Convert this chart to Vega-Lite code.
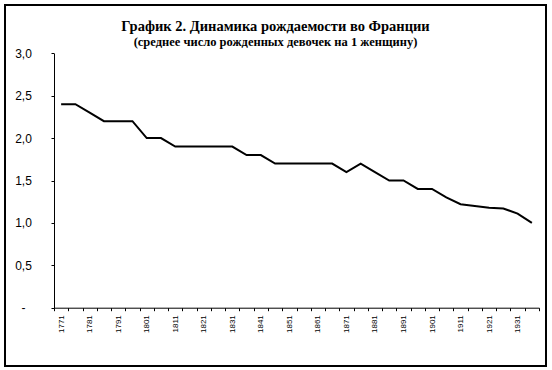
{
  "$schema": "https://vega.github.io/schema/vega-lite/v6.json",
  "width": 541,
  "height": 361,
  "autosize": {"type": "none"},
  "padding": {"left": 5, "top": 5, "right": 6, "bottom": 4},
  "background": "white",
  "view": {"stroke": "black", "strokeWidth": 2, "fill": "white"},
  "title": {
    "text": "График 2. Динамика рождаемости во Франции",
    "subtitle": "(среднее число рожденных девочек на 1 женщину)",
    "font": "Liberation Serif",
    "fontSize": 14.5,
    "fontWeight": "bold",
    "color": "black",
    "subtitleFont": "Liberation Serif",
    "subtitleFontSize": 12.5,
    "subtitleFontWeight": "bold",
    "subtitleColor": "black",
    "subtitlePadding": 1,
    "anchor": "middle",
    "frame": "group",
    "offset": -44
  },
  "data": {
    "values": [
      {"year": 1771, "value": 2.4},
      {"year": 1776, "value": 2.4},
      {"year": 1781, "value": 2.3},
      {"year": 1786, "value": 2.2},
      {"year": 1791, "value": 2.2},
      {"year": 1796, "value": 2.2},
      {"year": 1801, "value": 2.0},
      {"year": 1806, "value": 2.0},
      {"year": 1811, "value": 1.9},
      {"year": 1816, "value": 1.9},
      {"year": 1821, "value": 1.9},
      {"year": 1826, "value": 1.9},
      {"year": 1831, "value": 1.9},
      {"year": 1836, "value": 1.8},
      {"year": 1841, "value": 1.8},
      {"year": 1846, "value": 1.7},
      {"year": 1851, "value": 1.7},
      {"year": 1856, "value": 1.7},
      {"year": 1861, "value": 1.7},
      {"year": 1866, "value": 1.7},
      {"year": 1871, "value": 1.6},
      {"year": 1876, "value": 1.7},
      {"year": 1881, "value": 1.6},
      {"year": 1886, "value": 1.5},
      {"year": 1891, "value": 1.5},
      {"year": 1896, "value": 1.4},
      {"year": 1901, "value": 1.4},
      {"year": 1906, "value": 1.3},
      {"year": 1911, "value": 1.22},
      {"year": 1916, "value": 1.2},
      {"year": 1921, "value": 1.18},
      {"year": 1926, "value": 1.17},
      {"year": 1931, "value": 1.11},
      {"year": 1936, "value": 1.0}
    ]
  },
  "mark": {"type": "line", "color": "black", "strokeWidth": 2, "interpolate": "linear"},
  "encoding": {
    "x": {
      "field": "year",
      "type": "quantitative",
      "scale": {"domain": [1768.5, 1938.5], "range": [49, 534], "nice": false, "zero": false},
      "axis": {
        "orient": "bottom",
        "offset": -58.3,
        "title": null,
        "grid": false,
        "values": [1768.5, 1773.5, 1778.5, 1783.5, 1788.5, 1793.5, 1798.5, 1803.5, 1808.5, 1813.5, 1818.5, 1823.5, 1828.5, 1833.5, 1838.5, 1843.5, 1848.5, 1853.5, 1858.5, 1863.5, 1868.5, 1873.5, 1878.5, 1883.5, 1888.5, 1893.5, 1898.5, 1903.5, 1908.5, 1913.5, 1918.5, 1923.5, 1928.5, 1933.5, 1938.5, 1771, 1781, 1791, 1801, 1811, 1821, 1831, 1841, 1851, 1861, 1871, 1881, 1891, 1901, 1911, 1921, 1931],
        "labelExpr": "datum.value % 10 == 1 ? '' + datum.value : ''",
        "labelOverlap": false,
        "labelAngle": -90,
        "labelFont": "Liberation Sans",
        "labelFontSize": 8,
        "labelColor": "black",
        "labelPadding": 4,
        "tickSize": 3,
        "tickColor": "black",
        "tickOpacity": {"condition": {"test": "datum.value % 10 == 1", "value": 0}, "value": 1},
        "domainColor": "black",
        "domainWidth": 1
      }
    },
    "y": {
      "field": "value",
      "type": "quantitative",
      "scale": {"domain": [0, 3], "range": [302.7, 48.3], "nice": false, "zero": false},
      "axis": {
        "orient": "left",
        "offset": -49,
        "title": null,
        "grid": false,
        "values": [0, 0.5, 1, 1.5, 2, 2.5, 3],
        "labelExpr": "datum.value == 0 ? '-' : replace(format(datum.value, '.1f'), '.', ',')",
        "labelAlign": "center",
        "labelBaseline": "middle",
        "labelPadding": 28,
        "labelFont": "Liberation Sans",
        "labelFontSize": 12,
        "labelColor": "black",
        "tickSize": 3,
        "tickColor": "black",
        "domainColor": "black",
        "domainWidth": 1
      }
    }
  }
}
